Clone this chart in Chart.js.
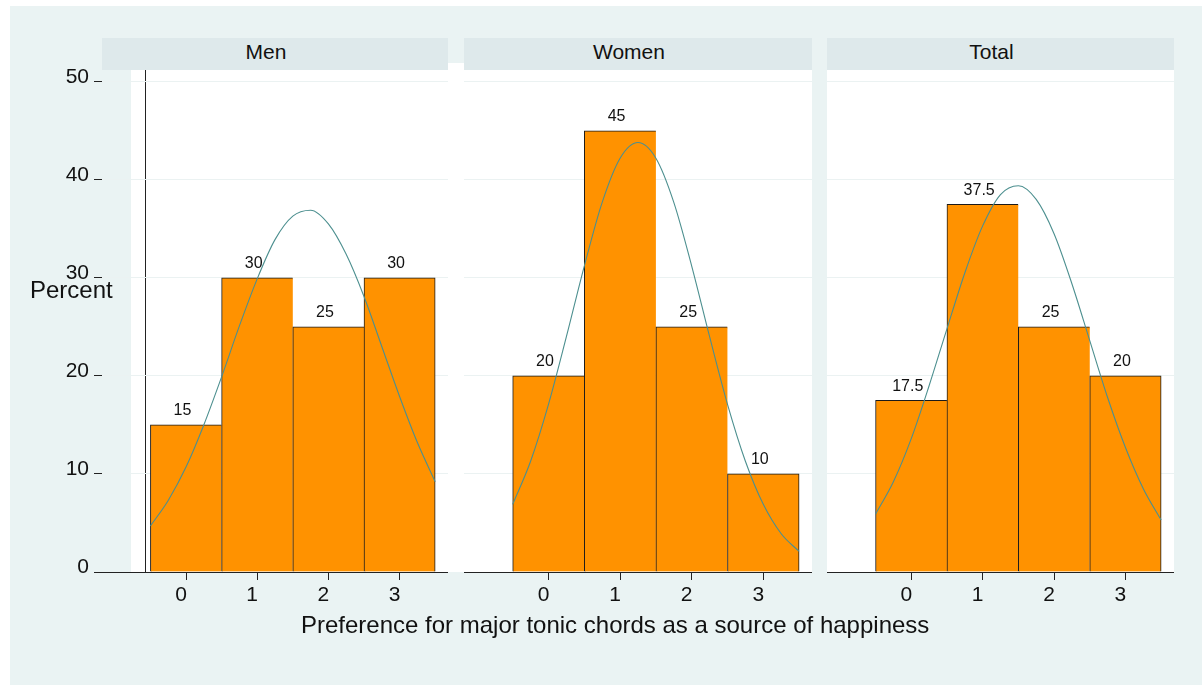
<!DOCTYPE html>
<html>
<head>
<meta charset="utf-8">
<title>Preference for major tonic chords</title>
<script src="https://cdn.jsdelivr.net/npm/chart.js@4.4.1/dist/chart.umd.min.js"></script>
<style>
  html, body { margin: 0; padding: 0; background: #ffffff; }
  body {
    width: 1202px; height: 685px; position: relative; overflow: hidden;
    font-family: "Liberation Sans", Arial, sans-serif; color: #111;
  }
  .abs { position: absolute; }
  #frame { left: 10px; top: 6px; right: 0; bottom: 0; background: #EAF3F3; }
  .plotbg { background: #ffffff; }
  .strip {
    top: 38px; height: 32px; line-height: 28px; background: #DEE9EB;
    text-align: center; font-size: 21px; box-sizing: border-box; padding-right: 18px;
  }
  #yline { left: 145px; top: 70px; width: 1px; height: 502px; background: #222; }
  #ytitle { left: 30px; top: 278px; font-size: 24px; line-height: 24px; white-space: nowrap; }
  #xtitle { left: 301px; top: 613px; font-size: 24px; line-height: 24px; white-space: nowrap; }
  canvas { position: absolute; top: 0; }
</style>
</head>
<body>
<div id="frame" class="abs"></div>

<!-- white plotting regions -->
<div class="abs plotbg" style="left:131px; top:63px; width:333px; height:509px;"></div>
<div class="abs plotbg" style="left:464px; top:70px; width:348px; height:502px;"></div>
<div class="abs plotbg" style="left:827px; top:70px; width:347px; height:502px;"></div>

<!-- panel headers -->
<div id="strip0" class="abs strip" style="left:102px; width:346px;"></div>
<div id="strip1" class="abs strip" style="left:464px; width:348px;"></div>
<div id="strip2" class="abs strip" style="left:827px; width:347px;"></div>

<div id="yline" class="abs"></div>

<canvas id="c0" width="448" height="685" style="left:0px;"></canvas>
<canvas id="c1" width="348" height="685" style="left:464px;"></canvas>
<canvas id="c2" width="347" height="685" style="left:827px;"></canvas>

<div id="ytitle" class="abs">Percent</div>
<div id="xtitle" class="abs">Preference for major tonic chords as a source of happiness</div>

<script>
// Response categories and axis ticks
const categories = [0, 1, 2, 3];
const xTickLabels = ['0', '1', '2', '3'];
const yTicks = [0, 10, 20, 30, 40, 50];
const panelTitles = ['Men', 'Women', 'Total'];

// Percent of respondents in each category
const menPercent = [15, 30, 25, 30];
const womenPercent = [20, 45, 25, 10];
const totalPercent = [17.5, 37.5, 25, 20];

// Fitted normal density overlay (percent scale), sampled along the x axis
const curveX = [-0.5, -0.25, 0, 0.25, 0.5, 0.75, 1, 1.25, 1.5, 1.75, 2, 2.25, 2.5, 2.75, 3, 3.25, 3.5];
const menCurve = [4.7, 7.3, 10.7, 15.0, 19.9, 25.1, 29.9, 33.9, 36.3, 36.9, 35.5, 32.4, 28.1, 23.0, 17.9, 13.2, 9.2];
const womenCurve = [6.9, 11.3, 17.1, 24.0, 31.2, 37.7, 42.2, 43.8, 42.2, 37.7, 31.2, 24.0, 17.1, 11.3, 6.9, 3.9, 2.1];
const totalCurve = [5.9, 9.2, 13.6, 19.0, 24.8, 30.5, 35.3, 38.5, 39.4, 38.0, 34.5, 29.4, 23.6, 17.8, 12.7, 8.5, 5.3];

const FONT = '"Liberation Sans", Arial, sans-serif';
Chart.defaults.font.family = FONT;
Chart.defaults.color = '#111';

panelTitles.forEach((t, i) => { document.getElementById('strip' + i).textContent = t; });

// Prints each bar's percentage just above it
const barValueLabels = {
  id: 'barValueLabels',
  afterDatasetsDraw(chart) {
    const meta = chart.getDatasetMeta(0);
    const values = chart.data.datasets[0].data;
    const ctx = chart.ctx;
    ctx.save();
    ctx.font = '16px ' + FONT;
    ctx.fillStyle = '#111';
    ctx.textAlign = 'center';
    ctx.textBaseline = 'middle';
    meta.data.forEach((bar, i) => {
      ctx.fillText(String(values[i].y), bar.x - 3.5, bar.y - 14);
    });
    ctx.restore();
  }
};

function makePanel(canvasId, values, curve, showY) {
  const last = values.length - 1;
  return new Chart(document.getElementById(canvasId), {
    type: 'bar',
    data: {
      datasets: [
        {
          type: 'bar',
          data: categories.map((c, i) => ({ x: c, y: values[i] })),
          backgroundColor: '#FF9200',
          borderColor: '#1a1a1a',
          borderWidth: (c) => ({ top: 1, left: 1, bottom: 0, right: c.dataIndex === last ? 1 : 0 }),
          borderSkipped: 'start',
          barPercentage: 1,
          categoryPercentage: 1,
          order: 1
        },
        {
          type: 'line',
          data: curveX.map((x, i) => ({ x: x, y: curve[i] })),
          borderColor: '#4C8F8F',
          borderWidth: 1.1,
          pointRadius: 0,
          fill: false,
          cubicInterpolationMode: 'monotone',
          order: 0
        }
      ]
    },
    options: {
      responsive: false,
      animation: false,
      devicePixelRatio: 1,
      events: [],
      layout: { padding: { top: 70, left: 0, right: 0, bottom: 0 } },
      plugins: { legend: { display: false }, tooltip: { enabled: false } },
      scales: {
        x: {
          type: 'linear',
          min: -1.18,
          max: 3.68,
          offset: false,
          afterBuildTicks: (s) => { s.ticks = categories.map((v) => ({ value: v })); },
          afterFit: (s) => { s.height = 113; },
          border: { display: true, color: '#222', width: 1, z: 1 },
          grid: {
            display: true, offset: false, drawOnChartArea: false, drawTicks: true,
            tickLength: 8, color: '#222', tickColor: '#222'
          },
          ticks: {
            padding: 3, labelOffset: -5, autoSkip: false, maxRotation: 0,
            color: '#111', font: { size: 21, family: FONT },
            callback: (v, i) => xTickLabels[i]
          }
        },
        y: {
          type: 'linear',
          min: 0,
          max: 51.2,
          afterBuildTicks: (s) => { s.ticks = yTicks.map((v) => ({ value: v })); },
          afterFit: (s) => { s.width = showY ? 102 : 0; },
          border: { display: false },
          grid: {
            color: (c) => (c.tick && c.tick.value === 0 ? 'rgba(0,0,0,0)' : '#EBF2F2'),
            lineWidth: 1,
            drawTicks: showY, tickLength: 8, tickColor: '#222', tickWidth: 1
          },
          ticks: {
            display: showY, padding: 5, labelOffset: -5,
            color: '#111', font: { size: 21, family: FONT }
          }
        }
      }
    },
    plugins: [barValueLabels]
  });
}

makePanel('c0', menPercent, menCurve, true);
makePanel('c1', womenPercent, womenCurve, false);
makePanel('c2', totalPercent, totalCurve, false);
</script>
</body>
</html>
